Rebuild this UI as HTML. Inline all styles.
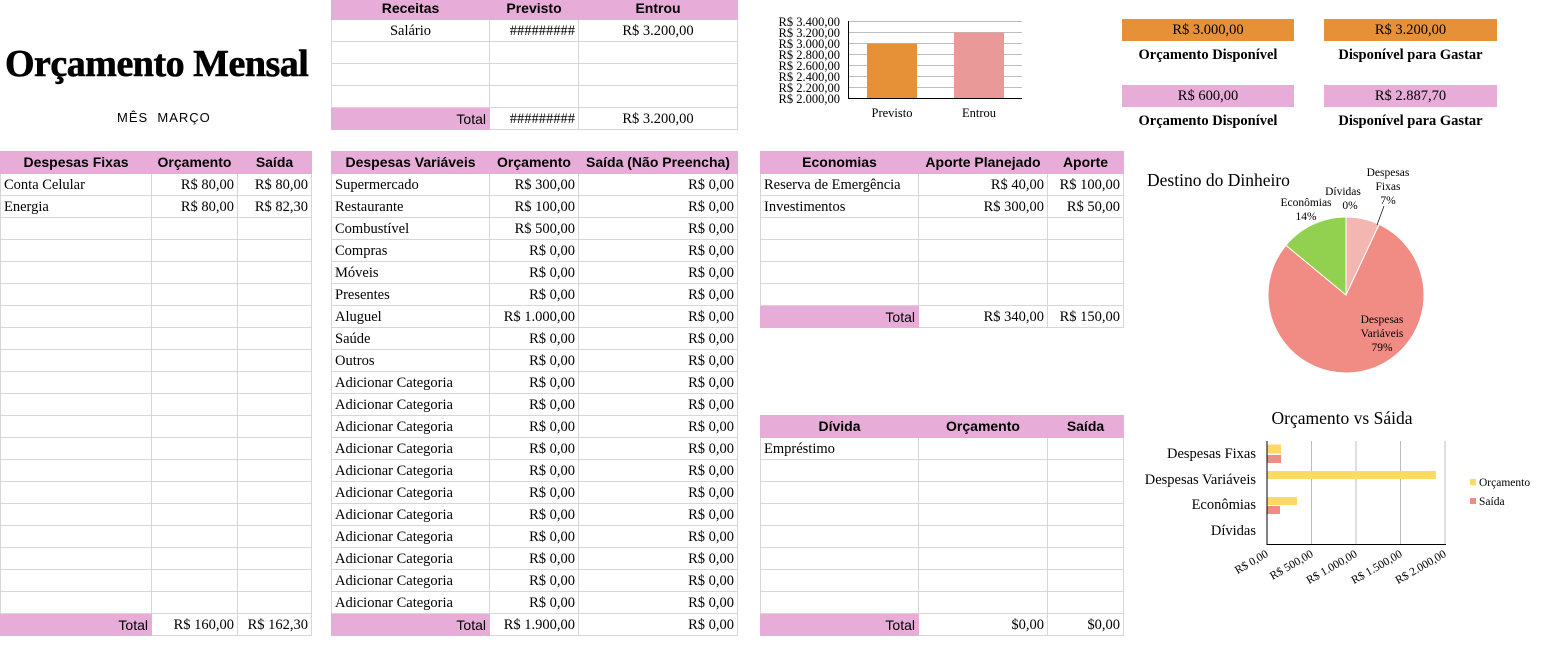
<!DOCTYPE html>
<html><head><meta charset="utf-8"><style>
body{margin:0;width:1551px;height:659px;background:#fff;position:relative;overflow:hidden;font-family:"Liberation Serif",serif;color:#000}
.a{position:absolute}
table{position:absolute;border-collapse:collapse;table-layout:fixed}
td{border:1px solid #d6d6d6;height:19px;padding:2px 3px 0;font-size:14.5px;white-space:nowrap;overflow:hidden;line-height:19px}
th{background:#e8acd9;border:1px solid #e8acd9;height:21px;font-family:"Liberation Sans",sans-serif;font-size:14px;font-weight:bold;padding:0;white-space:nowrap;overflow:hidden;line-height:21px}
td.r{text-align:right}
tr.t td{background:#e8acd9;border-color:#e8acd9}
tr.t td.w{background:#fff;border-color:#d6d6d6}
tr.t td.l{text-align:right;font-family:"Liberation Sans",sans-serif;font-size:14px}
.box{position:absolute;height:22px;line-height:22px;text-align:center;font-size:14.5px}
.lab{position:absolute;font-weight:bold;font-size:14.5px;text-align:center}
</style></head><body>

<div class="a" style="left:5px;top:42px;font-size:38px;font-weight:bold;letter-spacing:-0.5px;-webkit-text-stroke:0.6px #000">Orçamento Mensal</div>
<div class="a" style="left:117px;top:110px;font-family:'Liberation Sans',sans-serif;font-size:13px;letter-spacing:1px">MÊS&nbsp; MARÇO</div>

<!-- Receitas -->
<table style="left:331px;top:-3px"><colgroup><col style="width:158px"><col style="width:89px"><col style="width:159px"></colgroup>
<tr><th>Receitas</th><th>Previsto</th><th>Entrou</th></tr>
<tr><td style="text-align:center">Salário</td><td class="r">#########</td><td style="text-align:center">R$ 3.200,00</td></tr>
<tr><td></td><td></td><td></td></tr><tr><td></td><td></td><td></td></tr><tr><td></td><td></td><td></td></tr>
<tr class="t"><td class="l">Total</td><td class="w r">#########</td><td class="w" style="text-align:center">R$ 3.200,00</td></tr>
</table>

<!-- Despesas Fixas -->
<table style="left:0;top:151px"><colgroup><col style="width:151px"><col style="width:86px"><col style="width:74px"></colgroup>
<tr><th>Despesas Fixas</th><th>Orçamento</th><th>Saída</th></tr>
<tr><td>Conta Celular</td><td class="r">R$ 80,00</td><td class="r">R$ 80,00</td></tr>
<tr><td>Energia</td><td class="r">R$ 80,00</td><td class="r">R$ 82,30</td></tr>
<tr><td></td><td></td><td></td></tr><tr><td></td><td></td><td></td></tr><tr><td></td><td></td><td></td></tr><tr><td></td><td></td><td></td></tr><tr><td></td><td></td><td></td></tr><tr><td></td><td></td><td></td></tr><tr><td></td><td></td><td></td></tr><tr><td></td><td></td><td></td></tr><tr><td></td><td></td><td></td></tr><tr><td></td><td></td><td></td></tr><tr><td></td><td></td><td></td></tr><tr><td></td><td></td><td></td></tr><tr><td></td><td></td><td></td></tr><tr><td></td><td></td><td></td></tr><tr><td></td><td></td><td></td></tr><tr><td></td><td></td><td></td></tr><tr><td></td><td></td><td></td></tr><tr><td></td><td></td><td></td></tr>
<tr class="t"><td class="l">Total</td><td class="w r">R$ 160,00</td><td class="w r">R$ 162,30</td></tr>
</table>

<!-- Despesas Variáveis -->
<table style="left:331px;top:151px"><colgroup><col style="width:158px"><col style="width:89px"><col style="width:159px"></colgroup>
<tr><th>Despesas Variáveis</th><th>Orçamento</th><th>Saída (Não Preencha)</th></tr>
<tr><td>Supermercado</td><td class="r">R$ 300,00</td><td class="r">R$ 0,00</td></tr>
<tr><td>Restaurante</td><td class="r">R$ 100,00</td><td class="r">R$ 0,00</td></tr>
<tr><td>Combustível</td><td class="r">R$ 500,00</td><td class="r">R$ 0,00</td></tr>
<tr><td>Compras</td><td class="r">R$ 0,00</td><td class="r">R$ 0,00</td></tr>
<tr><td>Móveis</td><td class="r">R$ 0,00</td><td class="r">R$ 0,00</td></tr>
<tr><td>Presentes</td><td class="r">R$ 0,00</td><td class="r">R$ 0,00</td></tr>
<tr><td>Aluguel</td><td class="r">R$ 1.000,00</td><td class="r">R$ 0,00</td></tr>
<tr><td>Saúde</td><td class="r">R$ 0,00</td><td class="r">R$ 0,00</td></tr>
<tr><td>Outros</td><td class="r">R$ 0,00</td><td class="r">R$ 0,00</td></tr>
<tr><td>Adicionar Categoria</td><td class="r">R$ 0,00</td><td class="r">R$ 0,00</td></tr>
<tr><td>Adicionar Categoria</td><td class="r">R$ 0,00</td><td class="r">R$ 0,00</td></tr>
<tr><td>Adicionar Categoria</td><td class="r">R$ 0,00</td><td class="r">R$ 0,00</td></tr>
<tr><td>Adicionar Categoria</td><td class="r">R$ 0,00</td><td class="r">R$ 0,00</td></tr>
<tr><td>Adicionar Categoria</td><td class="r">R$ 0,00</td><td class="r">R$ 0,00</td></tr>
<tr><td>Adicionar Categoria</td><td class="r">R$ 0,00</td><td class="r">R$ 0,00</td></tr>
<tr><td>Adicionar Categoria</td><td class="r">R$ 0,00</td><td class="r">R$ 0,00</td></tr>
<tr><td>Adicionar Categoria</td><td class="r">R$ 0,00</td><td class="r">R$ 0,00</td></tr>
<tr><td>Adicionar Categoria</td><td class="r">R$ 0,00</td><td class="r">R$ 0,00</td></tr>
<tr><td>Adicionar Categoria</td><td class="r">R$ 0,00</td><td class="r">R$ 0,00</td></tr>
<tr><td>Adicionar Categoria</td><td class="r">R$ 0,00</td><td class="r">R$ 0,00</td></tr>
<tr class="t"><td class="l">Total</td><td class="w r">R$ 1.900,00</td><td class="w r">R$ 0,00</td></tr>
</table>

<!-- Economias -->
<table style="left:760px;top:151px"><colgroup><col style="width:158px"><col style="width:129px"><col style="width:76px"></colgroup>
<tr><th>Economias</th><th>Aporte Planejado</th><th>Aporte</th></tr>
<tr><td>Reserva de Emergência</td><td class="r">R$ 40,00</td><td class="r">R$ 100,00</td></tr>
<tr><td>Investimentos</td><td class="r">R$ 300,00</td><td class="r">R$ 50,00</td></tr>
<tr><td></td><td></td><td></td></tr><tr><td></td><td></td><td></td></tr><tr><td></td><td></td><td></td></tr><tr><td></td><td></td><td></td></tr>
<tr class="t"><td class="l">Total</td><td class="w r">R$ 340,00</td><td class="w r">R$ 150,00</td></tr>
</table>

<!-- Dívida -->
<table style="left:760px;top:415px"><colgroup><col style="width:158px"><col style="width:129px"><col style="width:76px"></colgroup>
<tr><th>Dívida</th><th>Orçamento</th><th>Saída</th></tr>
<tr><td>Empréstimo</td><td></td><td></td></tr>
<tr><td></td><td></td><td></td></tr><tr><td></td><td></td><td></td></tr><tr><td></td><td></td><td></td></tr><tr><td></td><td></td><td></td></tr><tr><td></td><td></td><td></td></tr><tr><td></td><td></td><td></td></tr><tr><td></td><td></td><td></td></tr>
<tr class="t"><td class="l">Total</td><td class="w r">$0,00</td><td class="w r">$0,00</td></tr>
</table>

<!-- Summary boxes -->
<div class="box" style="left:1122px;top:19px;width:172px;background:#e69138">R$ 3.000,00</div>
<div class="box" style="left:1324px;top:19px;width:173px;background:#e69138">R$ 3.200,00</div>
<div class="lab" style="left:1112px;top:47px;width:192px">Orçamento Disponível</div>
<div class="lab" style="left:1314px;top:47px;width:193px">Disponível para Gastar</div>
<div class="box" style="left:1122px;top:85px;width:172px;background:#e8acd9">R$ 600,00</div>
<div class="box" style="left:1324px;top:85px;width:173px;background:#e8acd9">R$ 2.887,70</div>
<div class="lab" style="left:1112px;top:113px;width:192px">Orçamento Disponível</div>
<div class="lab" style="left:1314px;top:113px;width:193px">Disponível para Gastar</div>

<!-- Charts -->
<svg class="a" style="left:0;top:0" width="1551" height="659" font-family="Liberation Serif, serif">
 <g stroke="#bdbdbd" stroke-width="1">
  <line x1="848" y1="21.5" x2="1022" y2="21.5"/><line x1="848" y1="32.5" x2="1022" y2="32.5"/>
  <line x1="848" y1="43.5" x2="1022" y2="43.5"/><line x1="848" y1="54.5" x2="1022" y2="54.5"/>
  <line x1="848" y1="65.5" x2="1022" y2="65.5"/><line x1="848" y1="76.5" x2="1022" y2="76.5"/>
  <line x1="848" y1="87.5" x2="1022" y2="87.5"/>
 </g>
 <rect x="867" y="43.5" width="50" height="55" fill="#e69138"/>
 <rect x="954" y="32.5" width="50" height="66" fill="#ea9999"/>
 <path d="M848.5 21V98.5H1022" stroke="#000" fill="none"/>
 <g font-size="12.5" text-anchor="end">
  <text x="840" y="26">R$ 3.400,00</text><text x="840" y="37">R$ 3.200,00</text>
  <text x="840" y="48">R$ 3.000,00</text><text x="840" y="59">R$ 2.800,00</text>
  <text x="840" y="70">R$ 2.600,00</text><text x="840" y="81">R$ 2.400,00</text>
  <text x="840" y="92">R$ 2.200,00</text><text x="840" y="103">R$ 2.000,00</text>
 </g>
 <g font-size="12.5" text-anchor="middle"><text x="892" y="117">Previsto</text><text x="979" y="117">Entrou</text></g>

 <!-- Pie -->
 <text x="1147" y="186" font-size="17.5">Destino do Dinheiro</text>
 <path d="M1346 295L1346 217A78 78 0 0 1 1379.2 224.4Z" fill="#f4b6b0" stroke="#fff"/>
 <path d="M1346 295L1379.2 224.4A78 78 0 1 1 1285.9 245.3Z" fill="#f08c84" stroke="#fff"/>
 <path d="M1346 295L1285.9 245.3A78 78 0 0 1 1346 217Z" fill="#92d050" stroke="#fff"/>
 <line x1="1377" y1="225" x2="1384" y2="206" stroke="#000" stroke-width="0.7"/>
 <g font-size="11.5" text-anchor="middle">
  <text x="1388" y="176">Despesas</text><text x="1388" y="190">Fixas</text><text x="1388" y="204">7%</text>
  <text x="1343" y="195">Dívidas</text><text x="1350" y="209">0%</text>
  <text x="1306" y="206">Econômias</text><text x="1306" y="220">14%</text>
  <text x="1382" y="323">Despesas</text><text x="1382" y="337">Variáveis</text><text x="1382" y="351">79%</text>
 </g>

 <!-- Orçamento vs Saída -->
 <text x="1342" y="424" font-size="17.5" text-anchor="middle">Orçamento vs Sáida</text>
 <g stroke="#bdbdbd"><line x1="1311.5" y1="441" x2="1311.5" y2="544"/><line x1="1356" y1="441" x2="1356" y2="544"/><line x1="1400.5" y1="441" x2="1400.5" y2="544"/><line x1="1445" y1="441" x2="1445" y2="544"/></g>
 <rect x="1267" y="444.5" width="14" height="9" fill="#ffd966"/>
 <rect x="1267" y="455" width="14" height="8" fill="#f08c84"/>
 <rect x="1267" y="471" width="169" height="8" fill="#ffd966"/>
 <rect x="1267" y="497" width="30" height="8" fill="#ffd966"/>
 <rect x="1267" y="506" width="13" height="8" fill="#f08c84"/>
 <path d="M1267 441V544.5H1446" stroke="#000" fill="none"/>
 <g font-size="14.5" text-anchor="end">
  <text x="1256" y="458">Despesas Fixas</text><text x="1256" y="484">Despesas Variáveis</text>
  <text x="1256" y="509">Econômias</text><text x="1256" y="535">Dívidas</text>
 </g>
 <g font-size="11.5" text-anchor="end">
  <text transform="translate(1269,556) rotate(-30)">R$ 0,00</text>
  <text transform="translate(1314,556) rotate(-30)">R$ 500,00</text>
  <text transform="translate(1358,556) rotate(-30)">R$ 1.000,00</text>
  <text transform="translate(1403,556) rotate(-30)">R$ 1.500,00</text>
  <text transform="translate(1447,556) rotate(-30)">R$ 2.000,00</text>
 </g>
 <rect x="1470" y="479" width="6" height="6" fill="#ffd966"/><text x="1479" y="486" font-size="11.5">Orçamento</text>
 <rect x="1470" y="498" width="6" height="6" fill="#f08c84"/><text x="1479" y="505" font-size="11.5">Saída</text>
</svg>
</body></html>
